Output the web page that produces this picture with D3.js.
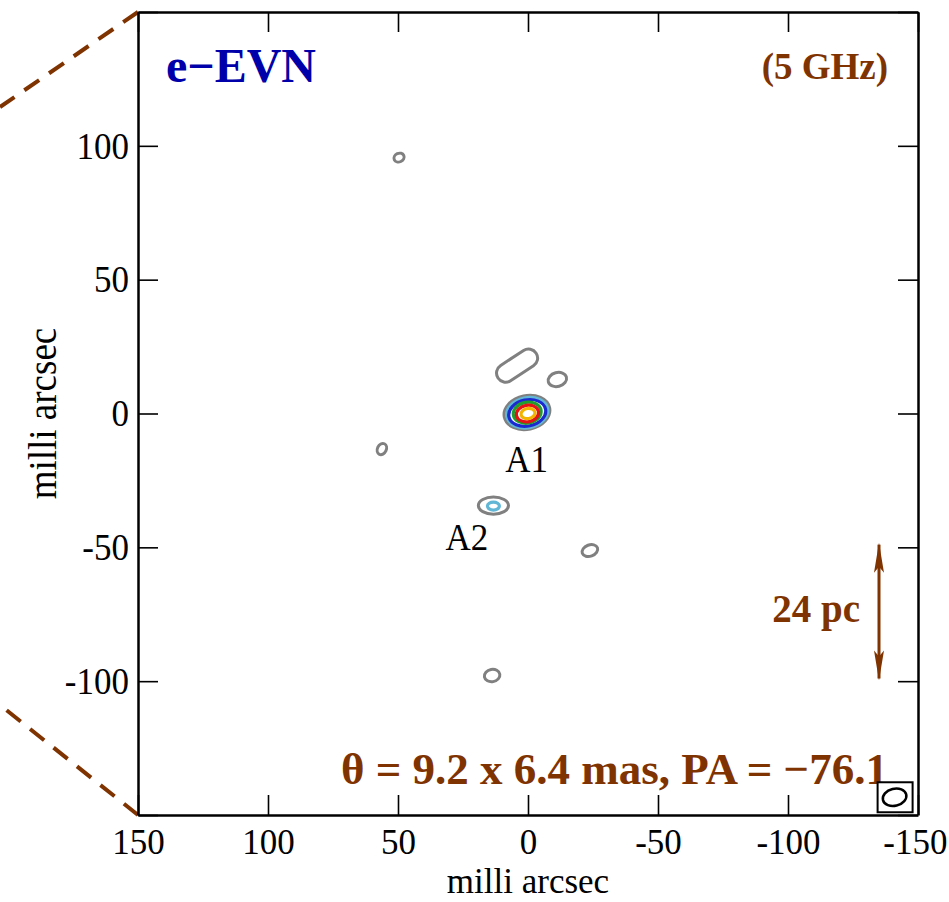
<!DOCTYPE html>
<html>
<head>
<meta charset="utf-8">
<script src="https://cdn.jsdelivr.net/npm/d3@7"></script>
<style>
  body { margin: 0; background: #fff; }
  text { font-family: "Liberation Serif", "DejaVu Serif", serif; }
</style>
</head>
<body>
<div id="map"></div>
<script>
// canvas
const width = 949,
  height = 902,
  plotLeft = 138,
  plotRight = 918,
  plotTop = 12,
  plotBottom = 815

// axis ticks (mas)
const xTicks = [150, 100, 50, 0, -50, -100, -150]
const yTicks = [100, 50, 0, -50, -100]

// contour rings: centre (mas), half axes (mas), tilt (deg), level
const ringX = [0.4, 0.3, 0.3, 0.3, 0.2, 0.0, -11.3, 13.3, 13.3, 49.6, 56.2, -23.8, 13.8]
const ringY = [0.4, 0.3, 0.2, 0.3, 0.0, 0.0, 12.7, -34.4, -34.6, 95.6, -13.3, -51.2, -97.9]
const ringRx = [8.9, 8.0, 7.2, 5.4, 4.3, 2.7, 3.6, 5.8, 2.3, 2.0, 1.7, 3.1, 3.0]
const ringRy = [6.3, 5.6, 4.9, 3.9, 3.1, 1.9, 2.6, 3.2, 1.5, 1.6, 2.2, 2.1, 2.3]
const ringTilt = [-12, -12, -12, -10, -10, -10, -15, 0, 0, -25, 25, -20, -10]
const ringLevel = [0, 1, 2, 3, 4, 5, 0, 0, 1, 0, 0, 0, 0]
const levelColors = ['#808080', '#62b6d6', '#1a2ad0', '#1e9e2e', '#e41414', '#f2b400']

// elongated ridge north of A1 (mas)
const ridge = { x: 4.2, y: 17.9, len: 17.5, wid: 6.8, tilt: -33 }

// component labels
const compNames = ['A1', 'A2']
const compX = [0.5, 23.5]
const compY = [-22, -51]

// beam and scale bar
const beamMaj = 9.2, beamMin = 6.4, beamPA = -76.1
const beamX = -141, beamY = -143
const barX = -135, barTop = -49, barBottom = -99

const brown = '#7f3300'

let svg = d3.select('#map')
  .append('svg')
  .attr('width', width)
  .attr('height', height)
  .style('background', '#fff')

let x = d3.scaleLinear().domain([150, -150]).range([plotLeft, plotRight])
let y = d3.scaleLinear().domain([-150, 150]).range([plotBottom, plotTop])
let sx = d => Math.abs(x(d) - x(0))
let sy = d => Math.abs(y(d) - y(0))

// dashed zoom lines to the left
svg.append('g')
  .selectAll('line')
  .data([[150, 107], [-150, 705]])
  .enter()
  .append('line')
  .attr('x1', x(150))
  .attr('y1', d => y(d[0]))
  .attr('x2', 0)
  .attr('y2', d => d[1])
  .attr('stroke', brown)
  .attr('stroke-width', 4)
  .attr('stroke-dasharray', '18,12')

// contours
svg.append('g')
  .selectAll('ellipse')
  .data(ringX)
  .enter()
  .append('ellipse')
  .attr('transform', (d, i) => `translate(${x(ringX[i])},${y(ringY[i])}) rotate(${ringTilt[i]})`)
  .attr('rx', (d, i) => sx(ringRx[i]))
  .attr('ry', (d, i) => sy(ringRy[i]))
  .attr('fill', 'none')
  .attr('stroke', (d, i) => levelColors[ringLevel[i]])
  .attr('stroke-width', (d, i) => ringLevel[i] === 0 ? 3 : 3.2)

svg.append('rect')
  .attr('transform', `translate(${x(ridge.x)},${y(ridge.y)}) rotate(${ridge.tilt})`)
  .attr('x', -sx(ridge.len) / 2)
  .attr('y', -sy(ridge.wid) / 2)
  .attr('width', sx(ridge.len))
  .attr('height', sy(ridge.wid))
  .attr('rx', sy(ridge.wid) / 2)
  .attr('fill', 'none')
  .attr('stroke', levelColors[0])
  .attr('stroke-width', 3)

svg.append('g')
  .selectAll('text')
  .data(compNames)
  .enter()
  .append('text')
  .attr('transform', (d, i) => `translate(${x(compX[i])},${y(compY[i])}) scale(1,1.1)`)
  .attr('text-anchor', 'middle')
  .attr('font-size', 35)
  .text(d => d)

// axes, ticks inside on all four sides
let frame = g => {
  g.selectAll('.domain').attr('stroke', '#000').attr('stroke-width', 2.5)
  g.selectAll('.tick line').attr('stroke', '#000').attr('stroke-width', 1.6)
  g.selectAll('.tick text')
    .attr('font-family', '"Liberation Serif", serif')
    .attr('font-size', 35)
    .attr('fill', '#000')
    .attr('transform', 'scale(1,1.1)')
}

svg.append('g')
  .attr('transform', `translate(0,${plotBottom})`)
  .call(d3.axisBottom(x).tickValues(xTicks).tickSizeInner(-20).tickSizeOuter(0).tickPadding(12).tickFormat(d => String(d)))
  .call(frame)
  .selectAll('.tick text')
  .attr('transform', 'scale(1,1.05)')
  .attr('text-anchor', d => d === -150 ? 'end' : 'middle')
  .attr('x', d => d === -150 ? 29 : 0)

svg.append('g')
  .attr('transform', `translate(0,${plotTop})`)
  .call(d3.axisTop(x).tickValues(xTicks).tickSizeInner(-20).tickSizeOuter(0).tickFormat(''))
  .call(frame)

svg.append('g')
  .attr('transform', `translate(${plotLeft},0)`)
  .call(d3.axisLeft(y).tickValues([150].concat(yTicks, [-150])).tickSizeInner(-20).tickSizeOuter(0).tickPadding(9)
    .tickFormat(d => Math.abs(d) === 150 ? '' : String(d)))
  .call(frame)

svg.append('g')
  .attr('transform', `translate(${plotRight},0)`)
  .call(d3.axisRight(y).tickValues([150].concat(yTicks, [-150])).tickSizeInner(-20).tickSizeOuter(0).tickFormat(''))
  .call(frame)

svg.append('text')
  .attr('x', (plotLeft + plotRight) / 2)
  .attr('y', 893)
  .attr('text-anchor', 'middle')
  .attr('font-size', 35)
  .text('milli arcsec')

svg.append('text')
  .attr('transform', `translate(56,${y(0)}) rotate(-90) scale(1,1.1)`)
  .attr('text-anchor', 'middle')
  .attr('font-size', 37)
  .text('milli arcsec')

// titles
svg.append('text')
  .attr('x', 166)
  .attr('y', 82)
  .attr('font-size', 48)
  .attr('font-weight', 'bold')
  .attr('fill', '#0000aa')
  .text('e\u2212EVN')

svg.append('text')
  .attr('x', 888)
  .attr('y', 79)
  .attr('text-anchor', 'end')
  .attr('font-size', 37)
  .attr('font-weight', 'bold')
  .attr('fill', brown)
  .text('(5 GHz)')

svg.append('text')
  .attr('x', 888)
  .attr('y', 784)
  .attr('text-anchor', 'end')
  .attr('font-size', 45)
  .attr('font-weight', 'bold')
  .attr('fill', brown)
  .text(`\u03b8 = ${beamMaj} x ${beamMin} mas, PA = \u2212${Math.abs(beamPA)}`)

// scale bar
let defs = svg.append('defs')
defs.append('marker')
  .attr('id', 'head')
  .attr('viewBox', '0 0 30 10')
  .attr('refX', 28)
  .attr('refY', 5)
  .attr('markerWidth', 30)
  .attr('markerHeight', 10)
  .attr('markerUnits', 'userSpaceOnUse')
  .attr('orient', 'auto-start-reverse')
  .append('path')
  .attr('d', 'M0,0 L30,5 L0,10 L6,5 Z')
  .attr('fill', brown)

svg.append('line')
  .attr('x1', x(barX))
  .attr('x2', x(barX))
  .attr('y1', y(barTop))
  .attr('y2', y(barBottom))
  .attr('stroke', brown)
  .attr('stroke-width', 3)
  .attr('marker-start', 'url(#head)')
  .attr('marker-end', 'url(#head)')

svg.append('text')
  .attr('x', 860)
  .attr('y', 622)
  .attr('text-anchor', 'end')
  .attr('font-size', 39)
  .attr('font-weight', 'bold')
  .attr('fill', brown)
  .text('24 pc')

// beam
let bx = x(beamX), by = y(beamY)
svg.append('rect')
  .attr('x', bx - 17)
  .attr('y', by - 14)
  .attr('width', 35)
  .attr('height', 30)
  .attr('fill', '#fff')
  .attr('stroke', '#000')
  .attr('stroke-width', 2)

svg.append('ellipse')
  .attr('transform', `translate(${bx},${by + 1}) rotate(${-(90 + beamPA)})`)
  .attr('rx', sx(beamMaj / 2))
  .attr('ry', sy(beamMin / 2))
  .attr('fill', 'none')
  .attr('stroke', '#000')
  .attr('stroke-width', 2.5)
</script>
</body>
</html>
